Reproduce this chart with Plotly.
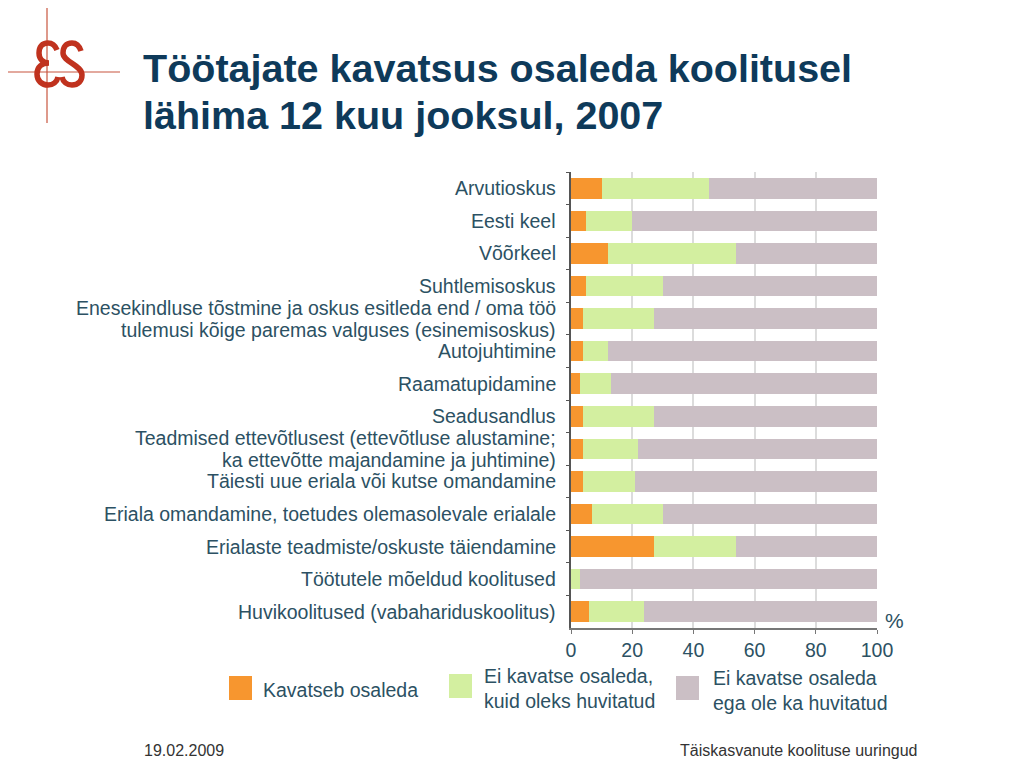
import plotly.graph_objects as go

categories = [
    "Arvutioskus",
    "Eesti keel",
    "Võõrkeel",
    "Suhtlemisoskus",
    "Enesekindluse tõstmine ja oskus esitleda end / oma töö<br>tulemusi kõige paremas valguses (esinemisoskus)",
    "Autojuhtimine",
    "Raamatupidamine",
    "Seadusandlus",
    "Teadmised ettevõtlusest (ettevõtluse alustamine;<br>ka ettevõtte majandamine ja juhtimine)",
    "Täiesti uue eriala või kutse omandamine",
    "Eriala omandamine, toetudes olemasolevale erialale",
    "Erialaste teadmiste/oskuste täiendamine",
    "Töötutele mõeldud koolitused",
    "Huvikoolitused (vabahariduskoolitus)",
]
kavatseb = [10, 5, 12, 5, 4, 4, 3, 4, 4, 4, 7, 27, 0, 6]
huvitatud = [35, 15, 42, 25, 23, 8, 10, 23, 18, 17, 23, 27, 3, 18]
ei_huvitatud = [100 - a - b for a, b in zip(kavatseb, huvitatud)]
series_names = ["Kavatseb osaleda", "Ei kavatse osaleda,<br>kuid oleks huvitatud",
                "Ei kavatse osaleda<br>ega ole ka huvitatud"]
x_ticks = [0, 20, 40, 60, 80, 100]

colors = ["#f7962f", "#d3efa0", "#cbbfc5"]
text_col = "#2c5163"
title_col = "#0e3a5a"
logo_col = "#c0321e"
FONT = "Liberation Sans, Arial, sans-serif"

O = 8  # page body margin
W, H = 1024 - 2 * O, 768 - 2 * O
L, R, T, B = 571, 877, 172, 628  # plot area in page pixels


def px(p):
    return (p - L) / (R - L)


def py(p):
    return (B - p) / (B - T)


def path(cmds):
    out = []
    for c in cmds:
        if isinstance(c, str):
            out.append(c)
        else:
            out.append(f"{px(c[0]):.5f},{py(c[1]):.5f}")
    return " ".join(out)


fig = go.Figure()
for vals, name, c in zip([kavatseb, huvitatud, ei_huvitatud], series_names, colors):
    fig.add_trace(go.Bar(y=categories, x=vals, name=name, orientation="h",
                         marker=dict(color=c, line=dict(width=0)), showlegend=False))

fig.update_layout(
    width=W, height=H, barmode="stack", bargap=0.37,
    margin=dict(l=L - O, r=W - (R - O), t=T - O, b=H - (B - O), pad=0),
    plot_bgcolor="white", paper_bgcolor="white",
    font=dict(family=FONT, color=text_col, size=19),
    xaxis=dict(range=[0, 100], tickvals=x_ticks, showgrid=True, gridcolor="#dcdcdc",
               gridwidth=1.5, showline=True, linecolor="#777777", linewidth=1.5,
               ticks="outside", ticklen=4, tickcolor="#777777",
               tickfont=dict(size=19.5, color=text_col), zeroline=False),
    yaxis=dict(autorange="reversed", showline=True, linecolor="#555555", linewidth=2,
               ticks="outside", tickson="boundaries", ticklen=3, tickcolor="#555555",
               showticklabels=False),
)

S_path = [
    "M", (81, 51), "C", (79, 45), (75, 43), (72, 43), "C", (66, 43), (63, 47), (63, 53),
    "C", (63, 62), (82, 65), (82, 75), "C", (82, 81), (78, 85), (72, 85),
    "C", (67, 85), (63, 82), (62, 77),
]
E_path = [
    "M", (57, 50), "C", (55, 45), (51, 43), (48, 43), "C", (42, 43), (39, 47), (39, 53),
    "C", (39, 59), (43, 63), (49, 63), "C", (42, 63), (37, 67), (37, 74),
    "C", (37, 81), (42, 85), (48, 85), "C", (53, 85), (57, 82), (58, 77),
]

shapes = [
    dict(type="line", xref="paper", yref="paper", x0=px(0), x1=px(120), y0=py(72), y1=py(72),
         line=dict(color="#c8553f", width=1.2), layer="above"),
    dict(type="line", xref="paper", yref="paper", x0=px(47), x1=px(47), y0=py(3), y1=py(123),
         line=dict(color="#c8553f", width=1.2), layer="above"),
    dict(type="path", xref="paper", yref="paper", path=path(S_path),
         line=dict(color=logo_col, width=5.5), layer="above"),
    dict(type="path", xref="paper", yref="paper", path=path(E_path),
         line=dict(color=logo_col, width=5.5), layer="above"),
]
annotations = [
    dict(text="<b>Töötajate kavatsus osaleda koolitusel</b>", x=px(141), y=py(68),
         xref="paper", yref="paper", showarrow=False, xanchor="left", yanchor="middle",
         font=dict(size=39.5, color=title_col, family=FONT)),
    dict(text="<b>lähima 12 kuu jooksul, 2007</b>", x=px(141), y=py(115),
         xref="paper", yref="paper", showarrow=False, xanchor="left", yanchor="middle",
         font=dict(size=39.5, color=title_col, family=FONT)),
    dict(text="%", x=px(894), y=py(620), xref="paper", yref="paper", showarrow=False,
         xanchor="center", yanchor="middle", font=dict(size=21, color=text_col)),
    dict(text="19.02.2009", x=px(142), y=py(750), xref="paper", yref="paper", showarrow=False,
         xanchor="left", yanchor="middle", font=dict(size=16, color="#333333")),
    dict(text="Täiskasvanute koolituse uuringud", x=px(919), y=py(750), xref="paper",
         yref="paper", showarrow=False, xanchor="right", yanchor="middle",
         font=dict(size=16, color="#333333")),
]

# category labels (two-line labels with tighter line spacing)
for cat in categories:
    lines = cat.split("<br>")
    n = len(lines)
    for i, line in enumerate(lines):
        shift = ((n - 1) / 2 - i) * 22
        annotations.append(dict(text=line, x=px(558), xref="paper", y=cat, yref="y",
                                yshift=shift, showarrow=False, xanchor="right",
                                yanchor="middle", font=dict(size=19.5, color=text_col)))

legend_items = [(229, 688, 261), (449, 686, 482), (676, 688, 711)]
for (sx, sy, tx), name, c in zip(legend_items, series_names, colors):
    shapes.append(dict(type="rect", xref="paper", yref="paper", x0=px(sx), x1=px(sx + 23),
                       y0=py(sy - 12), y1=py(sy + 12), fillcolor=c, line=dict(width=0)))
    annotations.append(dict(text=name, x=px(tx), y=py(sy + 2), xref="paper", yref="paper",
                            showarrow=False, xanchor="left", yanchor="middle", align="left",
                            font=dict(size=19.5, color=text_col)))

fig.update_layout(shapes=shapes, annotations=annotations)
fig.write_html("out.html")
